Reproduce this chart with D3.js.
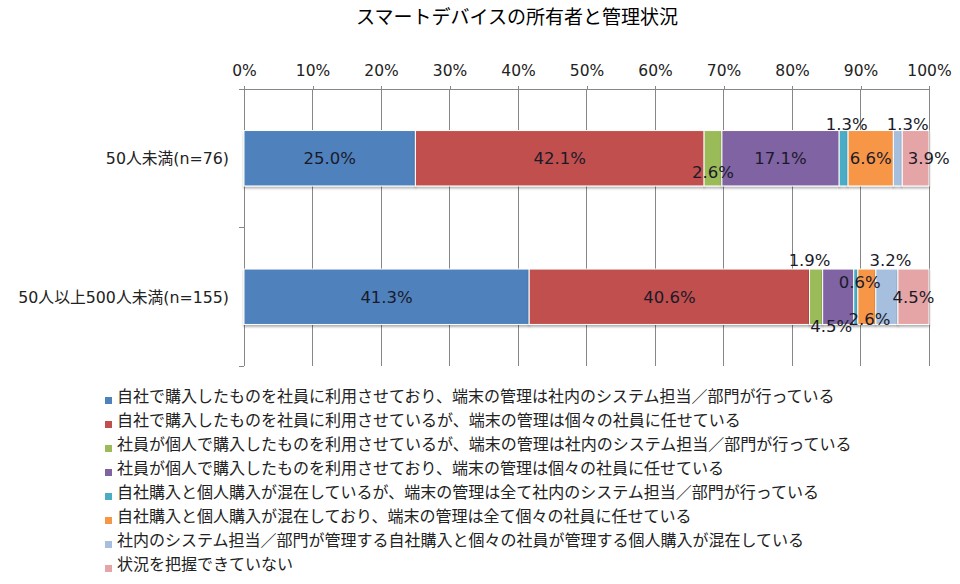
<!DOCTYPE html>
<html><head><meta charset="utf-8">
<script src="https://cdn.jsdelivr.net/npm/d3@7/dist/d3.min.js"></script>
<style>body{margin:0;background:#fff}svg{display:block}text{font-family:"Noto Sans CJK JP","Noto Sans",sans-serif}</style>
</head><body><svg id="c" width="960" height="584"></svg>
<script>
const title = "スマートデバイスの所有者と管理状況";
const categories = ["50人未満(n=76)", "50人以上500人未満(n=155)"];
const seriesNames = [
  "自社で購入したものを社員に利用させており、端末の管理は社内のシステム担当／部門が行っている",
  "自社で購入したものを社員に利用させているが、端末の管理は個々の社員に任せている",
  "社員が個人で購入したものを利用させているが、端末の管理は社内のシステム担当／部門が行っている",
  "社員が個人で購入したものを利用させており、端末の管理は個々の社員に任せている",
  "自社購入と個人購入が混在しているが、端末の管理は全て社内のシステム担当／部門が行っている",
  "自社購入と個人購入が混在しており、端末の管理は全て個々の社員に任せている",
  "社内のシステム担当／部門が管理する自社購入と個々の社員が管理する個人購入が混在している",
  "状況を把握できていない"
];
const values50 = [25.0, 42.1, 2.6, 17.1, 1.3, 6.6, 1.3, 3.9];
const values500 = [41.3, 40.6, 1.9, 4.5, 0.6, 2.6, 3.2, 4.5];
const tickValues = [0, 10, 20, 30, 40, 50, 60, 70, 80, 90, 100];
const colors = ["#4F81BD", "#C0504D", "#9BBB59", "#8064A2", "#4BACC6", "#F79646", "#A7BFDF", "#E5A4A6"];
// label nudges [dx, dy] from the centre of each segment (manual placement as in the original)
const labelNudge = [
  [[0, 0], [0, 0], [0, 14], [0, 0], [3, -34], [0, 0], [10, -34], [13, 0]],
  [[0, 0], [0, 0], [-6.5, -36.5], [-7, 29.5], [4, -14.5], [2.5, 22.5], [3.5, -36.5], [0, 0]]
];

const rows = [values50, values500];
const svg = d3.select("#c");
const x = d3.scaleLinear().domain([0, 100]).range([244, 929]);
const y = d3.scaleBand().domain(categories).range([89, 366]).paddingInner(0.6).paddingOuter(0.3);

const defs = svg.append("defs");
const f = defs.append("filter").attr("id", "sh").attr("x", "-5%").attr("y", "-20%").attr("width", "110%").attr("height", "150%");
f.append("feDropShadow").attr("dx", 0).attr("dy", 2).attr("stdDeviation", 1.2).attr("flood-color", "#000").attr("flood-opacity", 0.3);

svg.append("text").attr("x", 517).attr("y", 24).attr("text-anchor", "middle")
  .attr("font-size", 19).attr("fill", "#000").text(title);

// gridlines
svg.append("g").selectAll("line").data(tickValues.slice(1)).join("line")
  .attr("x1", d => x(d)).attr("x2", d => x(d)).attr("y1", 89).attr("y2", 366)
  .attr("stroke", "#878787").attr("stroke-width", 1).attr("shape-rendering", "crispEdges");

// top axis
const topAx = svg.append("g").attr("transform", "translate(0,89)")
  .call(d3.axisTop(x).tickValues(tickValues).tickSize(3).tickFormat(d => d + "%"));
topAx.select(".domain").attr("stroke", "#878787").attr("d", `M240,0H${x(100)}`).attr("shape-rendering", "crispEdges");
topAx.selectAll(".tick line").attr("stroke", "#878787").attr("shape-rendering", "crispEdges");
topAx.selectAll(".tick text").attr("fill", "#222").attr("y", -13).attr("dy", 0)
  .style("font-family", "'DejaVu Sans',sans-serif").style("font-size", "15.5px");

// left axis
svg.append("line").attr("x1", 244).attr("x2", 244).attr("y1", 89).attr("y2", 366)
  .attr("stroke", "#878787").attr("shape-rendering", "crispEdges");
const bounds = [89, (89 + 366) / 2, 366];
svg.append("g").selectAll("line").data(bounds).join("line")
  .attr("x1", 239).attr("x2", 244).attr("y1", d => d).attr("y2", d => d)
  .attr("stroke", "#878787").attr("shape-rendering", "crispEdges");

svg.append("g").selectAll("text").data(categories).join("text")
  .attr("x", 229).attr("y", d => y(d) + y.bandwidth() / 2 + 6)
  .attr("text-anchor", "end").attr("fill", "#222")
  .style("font-family", "'DejaVu Sans','Noto Sans CJK JP',sans-serif")
  .style("font-size", "15.8px").text(d => d);

// bars
rows.forEach((vals, ri) => {
  const total = d3.sum(vals);
  let cum = 0;
  const segs = vals.map((v, i) => {
    const s = { v, i, x0: cum / total * 100, x1: (cum + v) / total * 100 };
    cum += v; return s;
  });
  const cat = categories[ri];
  const g = svg.append("g");
  g.selectAll("rect").data(segs).join("rect")
    .attr("x", d => x(d.x0)).attr("width", d => x(d.x1) - x(d.x0))
    .attr("y", y(cat)).attr("height", y.bandwidth())
    .attr("fill", d => colors[d.i]).attr("stroke", "#fff").attr("stroke-width", 1)
    .attr("filter", "url(#sh)");
  g.selectAll("text").data(segs).join("text")
    .attr("x", d => (x(d.x0) + x(d.x1)) / 2 + labelNudge[ri][d.i][0])
    .attr("y", d => y(cat) + y.bandwidth() / 2 + 6 + labelNudge[ri][d.i][1])
    .attr("text-anchor", "middle").attr("fill", "#1a1a2a")
    .style("font-family", "'DejaVu Sans',sans-serif").style("font-size", "16.5px")
    .text(d => d.v.toFixed(1) + "%");
});

// legend
const lg = svg.append("g").selectAll("g").data(seriesNames).join("g")
  .attr("transform", (d, i) => `translate(105,${396 + i * 24})`);
lg.append("rect").attr("x", 0).attr("y", 1).attr("width", 7).attr("height", 7)
  .attr("fill", (d, i) => colors[i]);
lg.append("text").attr("x", 12).attr("y", 6).attr("font-size", 16).attr("fill", "#222").text(d => d);
</script></body></html>
